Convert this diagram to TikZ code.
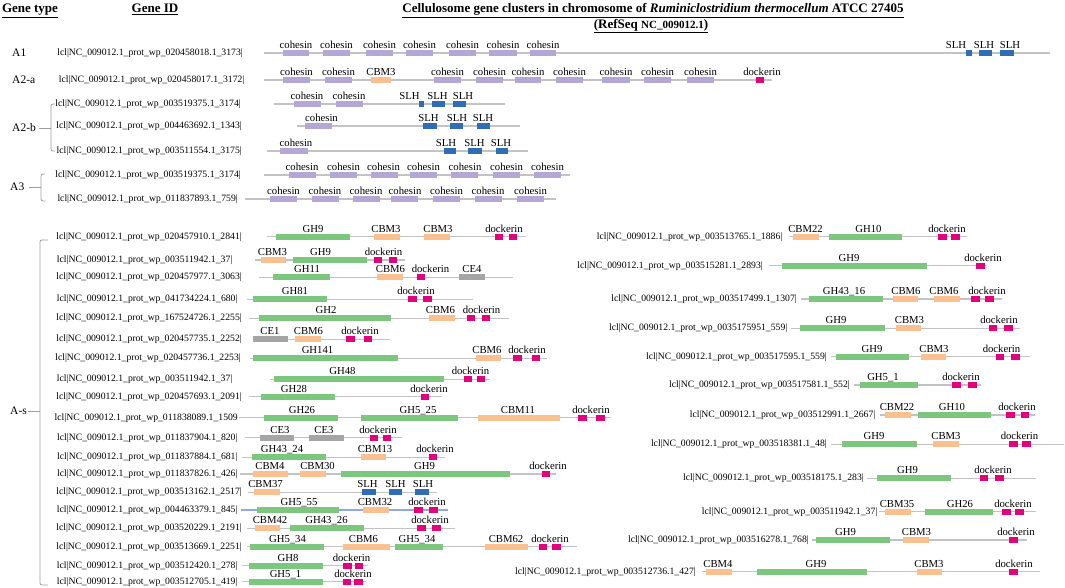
\documentclass[tikz,border=0pt]{standalone}
\usepackage{fontspec}
\setmainfont{Liberation Serif}
\usepackage{tikz}
\usetikzlibrary{positioning,calc}

\definecolor{coh}{HTML}{B4A7D6}
\definecolor{cbm}{HTML}{FAC08F}
\definecolor{gh}{HTML}{7DC67D}
\definecolor{slh}{HTML}{2F6EB5}
\definecolor{doc}{HTML}{E5007D}
\definecolor{ce}{HTML}{A5A5A5}
\definecolor{bbgray}{HTML}{C3C3C3}
\definecolor{bbblue}{HTML}{8FAADC}
\definecolor{brgray}{HTML}{9E9E9E}

\newcommand{\pid}[1]{lcl|NC\_009012.1\_prot\_wp\_#1}

% one gene: id, backbone, domain boxes, domain labels
\newcommand{\generow}[9][]{%
  \node[gid] (#2) at (#5,#3) {#4};
  \coordinate (#2s) at (#6,#3);
  \coordinate (#2e) at (#7,#3);
  \draw[backbone,#1] (#2s) -- (#2e);
  \foreach \xa/\xb/\col in {#8} \fill[fill=\col] (\xa,#3-3) rectangle (\xb,#3+3);
  \foreach \xl/\txt in {#9} \node[dlab] at (\xl,#3-4.5) {\txt};
}

\tikzset{
  gid/.style={anchor=east, inner sep=0pt, font=\fontsize{9.7}{11}\selectfont},
  dlab/.style={anchor=base, inner sep=0pt, font=\fontsize{10.7}{12}\selectfont},
  backbone/.style={draw=bbgray, line width=1.3pt},
  gtype/.style={anchor=west, inner sep=0pt, font=\fontsize{11.5}{13}\selectfont},
  brk/.style={draw=brgray, line width=0.8pt, rounded corners=2pt},
  hdr/.style={anchor=base, inner sep=0pt, font=\bfseries\fontsize{13}{15}\selectfont},
}

\begin{document}
\begin{tikzpicture}[x=1pt, y=-1pt]
    \path[fill=white] (0,0) rectangle (1065,588);

    \node[hdr] (gtype) at (30,12.5) {\underline{Gene type}};
    \node[hdr] (geneid) at (155,12.5) {\underline{Gene ID}};
    \node[hdr] (title) at (653,12.5) {\underline{Cellulosome gene clusters in chromosome of \textit{Ruminiclostridium thermocellum} ATCC 27405}};
    \node[hdr] (refseq) at (651,28.5) {\underline{(RefSeq {\fontsize{11}{12}\selectfont NC\_009012.1})}};

    % gene types
    \node[gtype] (a1lab) at (12,53) {A1};
    \node[gtype] (a2alab) at (12,80) {A2-a};
    \node[gtype] (a2blab) at (12,128) {A2-b};
    \node[gtype] (a3lab) at (10,187) {A3};
    \node[gtype] (aslab) at (10,411) {A-s};

    \draw[brk] ([xshift=3pt]a2blab.east) -- (51,128);
    \draw[brk] (55,104) -- (51,104) -- (51,151) -- (55,151);
    \draw[brk] ([xshift=5pt]a3lab.east) -- (41,187);
    \draw[brk] (45,174) -- (41,174) -- (41,201) -- (45,201);
    \draw[brk] ([xshift=1pt]aslab.east) -- (40,411);
    \draw[brk] (48,240) -- (40,240) -- (40,585) -- (48,585);

    % A1, A2, A3
    \generow{a1}{53}{\pid{020458018.1\_3173}|}{243}{264}{1050}
      {283/309/coh,323/350/coh,366/393/coh,406/433/coh,449/476/coh,489/517/coh,530/556/coh,966/972/slh,979/992/slh,1000/1014/slh}
      {296/cohesin,336.5/cohesin,379.5/cohesin,419.5/cohesin,462.5/cohesin,503/cohesin,543/cohesin,956/SLH,984/SLH,1010/SLH}
    \generow{a2a}{80}{\pid{020458017.1\_3172}|}{244.6}{264}{772}
      {283/310/coh,325/352/coh,371/391/cbm,434/461/coh,476/503/coh,515/541/coh,556/583/coh,602/630/coh,644/671/coh,687/714/coh,756/764/doc}
      {296.5/cohesin,338.5/cohesin,381/CBM3,447.5/cohesin,489.5/cohesin,528/cohesin,569.5/cohesin,616/cohesin,657.5/cohesin,700.5/cohesin,762/dockerin}
    \generow{a2b1}{104}{\pid{003519375.1\_3174}|}{241}{274}{505}
      {294/321/coh,336/363/coh,419/424/slh,432/445/slh,453/466/slh}
      {307/cohesin,349/cohesin,409.5/SLH,437.5/SLH,463/SLH}
    \generow{a2b2}{126}{\pid{004463692.1\_1343}|}{242}{297}{520}
      {305/332/coh,423/437/slh,450/463/slh,477/490/slh}
      {321.5/cohesin,428.5/SLH,457/SLH,483/SLH}
    \generow{a2b3}{151}{\pid{003511554.1\_3175}|}{242}{267}{528}
      {280/308/coh,444/456/slh,468/482/slh,496/508/slh}
      {296/cohesin,446/SLH,474.5/SLH,501/SLH}
    \generow{a3r1}{175}{\pid{003519375.1\_3174}|}{241}{264}{570}
      {289/316/coh,330/357/coh,371/398/coh,410/437/coh,451/478/coh,493/520/coh,534/561/coh}
      {302/cohesin,343.5/cohesin,383.5/cohesin,423.5/cohesin,465/cohesin,506.5/cohesin,547.5/cohesin}
    \generow{a3r2}{199}{\pid{011837893.1\_759}|}{238}{245}{556}
      {270/297/coh,312/339/coh,353/380/coh,391/418/coh,433/460/coh,475/502/coh,517/544/coh}
      {283.5/cohesin,325/cohesin,366/cohesin,405/cohesin,446.5/cohesin,488/cohesin,530.5/cohesin}

    % A-s, left column
    \generow{sl1}{236.7}{\pid{020457910.1\_2841}|}{242}{266.5}{526}
      {276/350/gh,374/400/cbm,424/450/cbm,494.5/502.5/doc,509/517/doc}
      {313/GH9,386/CBM3,438/CBM3,504/dockerin}
    \generow{sl2}{260}{\pid{003511942.1\_37}|}{232.5}{255}{405}
      {261/286/cbm,293/367/gh,374/382/doc,389/397/doc}
      {272.5/CBM3,320.5/GH9,383.5/dockerin}
    \generow{sl3}{277.3}{\pid{020457977.1\_3063}|}{242}{258.5}{513}
      {273/330/gh,376.5/402.5/cbm,416.5/424.5/doc,458.5/485/ce}
      {307/GH11,390.5/CBM6,430.5/dockerin,472/CE4}
    \generow{sl4}{299.3}{\pid{041734224.1\_680}|}{237.7}{247}{472.5}
      {253/327/gh,408/416.5/doc,423/431.5/doc}
      {295/GH81,416/dockerin}
    \generow{sl5}{318.3}{\pid{167524726.1\_2255}|}{242}{249}{509}
      {258.5/391/gh,428.5/454.5/cbm,466.5/474.5/doc,481.5/490/doc}
      {326/GH2,440.5/CBM6,481.5/dockerin}
    \generow{sl6}{339.3}{\pid{020457735.1\_2252}|}{242}{253}{390}
      {253/288/ce,295/321/cbm,346/354.5/doc,364/372/doc}
      {270/CE1,308.5/CBM6,360/dockerin}
    \generow{sl7}{358.3}{\pid{020457736.1\_2253}|}{241}{250}{547}
      {252.5/398/gh,476/501/cbm,513/521.5/doc,531.5/540/doc}
      {317.5/GH141,487/CBM6,527/dockerin}
    \generow{sl8}{379.3}{\pid{003511942.1\_37}|}{232.5}{270}{490}
      {274/444/gh,464/472/doc,477/485/doc}
      {342.5/GH48,470.5/dockerin}
    \generow{sl9}{396.7}{\pid{020457693.1\_2091}|}{242}{249}{442}
      {261/335/gh,421/429/doc}
      {294/GH28,429/dockerin}
    \generow{sl10}{417.7}{\pid{011838089.1\_1509}}{238}{239}{611}
      {264/337.5/gh,361/458/gh,478/560/cbm,578/587/doc,596/605/doc}
      {302/GH26,418/GH5\_25,518/CBM11,591/dockerin}
    \generow{sl11}{437.7}{\pid{011837904.1\_820}|}{237.7}{244.5}{402}
      {259.5/294/ce,309/343.5/ce,369.5/377.5/doc,382.5/391/doc}
      {280/CE3,324/CE3,378/dockerin}
    \generow{sl12}{457.3}{\pid{011837884.1\_681}|}{237.7}{242}{445}
      {251.5/325.5/gh,361/386/cbm,428.5/437/doc}
      {282/GH43\_24,375/CBM13,435/dockerin}
    \generow{sl13}{474}{\pid{011837826.1\_426}|}{237.7}{239.5}{556}
      {252.5/288/cbm,300/326/cbm,340.5/510/gh,542/550/doc}
      {270/CBM4,317.5/CBM30,424.5/GH9,548/dockerin}
    \generow{sl14}{492.3}{\pid{003513162.1\_2517}|}{242}{248}{436.5}
      {254/280/cbm,362/375.5/slh,388.5/402/slh,415/429/slh}
      {265.5/CBM37,367.5/SLH,395.5/SLH,423/SLH}
    \generow[draw=bbblue]{sl15}{510}{\pid{004463379.1\_845}|}{237.7}{240.5}{447.5}
      {256.5/339/gh,362.5/388.5/cbm,414/423/doc,429/438/doc}
      {299/GH5\_55,375/CBM32,427/dockerin}
    \generow{sl16}{528.3}{\pid{003520229.1\_2191}|}{242}{247}{455}
      {255/280/cbm,289.5/364/gh,417/426/doc,432/440.5/doc}
      {270/CBM42,326.5/GH43\_26,430/dockerin}
    \generow{sl17}{546.7}{\pid{003513669.1\_2251}|}{242}{247}{577}
      {250/323.5/gh,342.5/390/cbm,395/442.5/gh,485/528/cbm,538.5/547/doc,552/561/doc}
      {287.5/GH5\_34,363.5/CBM6,417/GH5\_34,506/CBM62,550/dockerin}
    \generow{sl18}{565.7}{\pid{003512420.1\_278}|}{237.7}{242}{368}
      {249/322.5/gh,342.5/351.5/doc,354.5/363/doc}
      {288/GH8,351.5/dockerin}
    \generow{sl19}{581.7}{\pid{003512705.1\_419}|}{237.7}{242}{366}
      {249/322.5/gh,342.5/351/doc,354/362.5/doc}
      {285.5/GH5\_1,353/dockerin}

    % A-s, right column
    \generow{sr1}{236.7}{\pid{003513765.1\_1886}|}{782.5}{788.5}{967}
      {793/819/cbm,829/902/gh,938/946.5/doc,951/960/doc}
      {805.5/CBM22,868.5/GH10,947/dockerin}
    \generow{sr2}{265.7}{\pid{003515281.1\_2893}|}{763}{768.5}{985.5}
      {782/927/gh,976/984.5/doc}
      {849/GH9,983/dockerin}
    \generow{sr3}{299}{\pid{003517499.1\_1307}|}{797}{801}{1001.5}
      {809/883/gh,892.5/918/cbm,934/960/cbm,971/979.5/doc,984.5/993.5/doc}
      {844/GH43\_16,906/CBM6,944/CBM6,987/dockerin}
    \generow{sr4}{328.3}{\pid{0035175951\_559}|}{787.5}{790.5}{1019.5}
      {800/885/gh,896/921/cbm,988.5/997/doc,1004/1013/doc}
      {836/GH9,909.5/CBM3,999/dockerin}
    \generow{sr5}{356.7}{\pid{003517595.1\_559}|}{827}{831}{1030}
      {836/909/gh,920.5/946/cbm,995.5/1004/doc,1011/1020/doc}
      {872/GH9,934/CBM3,1001.5/dockerin}
    \generow{sr6}{385}{\pid{003517581.1\_552}|}{850}{854}{981}
      {859.5/917.5/gh,952/961/doc,968/976.5/doc}
      {883/GH5\_1,961/dockerin}
    \generow{sr7}{415}{\pid{003512991.1\_2667}|}{875.5}{880}{1035}
      {884.5/910.5/cbm,917.5/991/gh,1006/1015/doc,1021/1029/doc}
      {897/CBM22,952/GH10,1017/dockerin}
    \generow{sr8}{444.3}{\pid{003518381.1\_48}|}{827}{831}{1063.5}
      {842/916.5/gh,933/959/cbm,1009/1017.5/doc,1022/1031/doc}
      {874/GH9,946/CBM3,1019.5/dockerin}
    \generow{sr9}{478.3}{\pid{003518175.1\_283}|}{864}{867}{1036}
      {876.5/951/gh,979.5/988/doc,995/1004/doc}
      {907.5/GH9,993/dockerin}
    \generow{sr10}{511.7}{\pid{003511942.1\_37}|}{877.5}{879}{1036}
      {885/911/cbm,925/993/gh,1001.5/1010.5/doc,1015/1024/doc}
      {897/CBM35,960/GH26,1013/dockerin}
    \generow{sr11}{540}{\pid{003516278.1\_768}|}{809}{812}{1026.5}
      {816/890/gh,903/929/cbm,1009/1017.5/doc}
      {845.5/GH9,916.5/CBM3,1016/dockerin}
    \generow{sr12}{571.7}{\pid{003512736.1\_427}|}{696}{701.5}{1039.5}
      {706/732/cbm,756.5/867/gh,916.5/942/cbm,1009/1017.5/doc}
      {718/CBM4,816/GH9,929/CBM3,1014/dockerin}
\end{tikzpicture}
\end{document}
